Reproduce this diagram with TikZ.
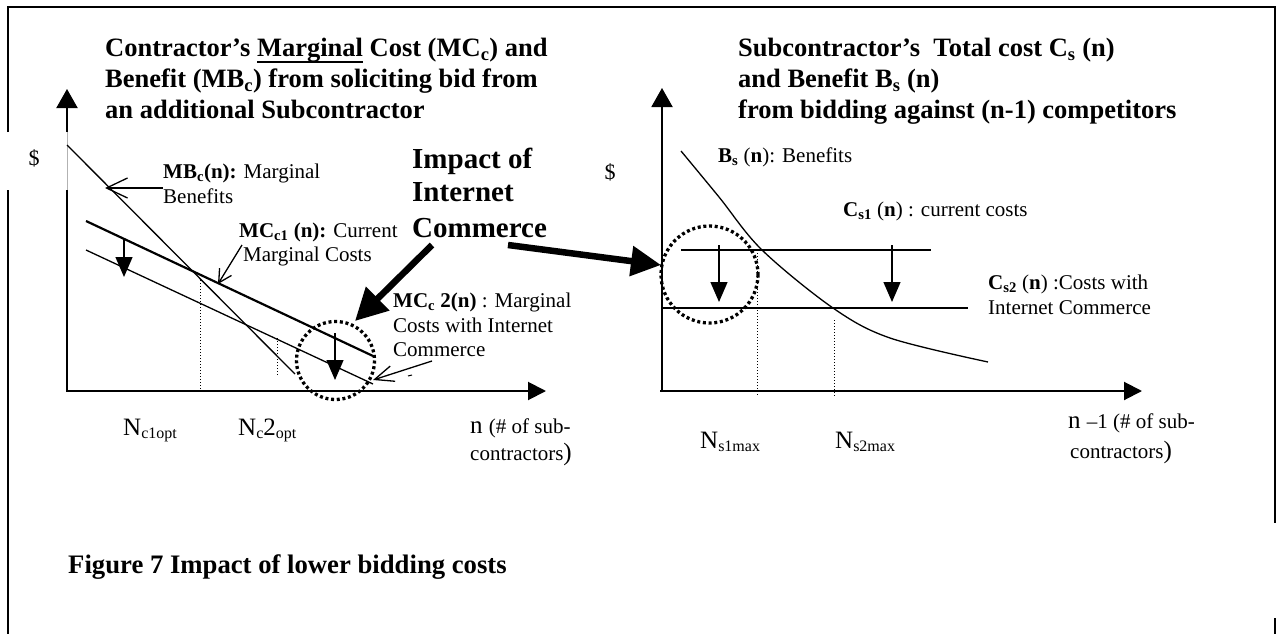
\documentclass[tikz,border=0pt]{standalone}
\usepackage{fontspec}
\setmainfont{Liberation Serif}
\usetikzlibrary{arrows.meta}
\newcommand\bigsub[1]{\raisebox{-3pt}{\fontsize{16}{16}\selectfont #1}}
\newcommand\ulx[1]{\sbox0{#1}\rlap{\rule[-6pt]{\wd0}{2pt}}\usebox0}
\begin{document}
\begin{tikzpicture}[x=1pt,y=-1pt,
  frame/.style={line width=2.5pt,line cap=butt,line join=miter},
  axisline/.style={line width=2pt,-{Triangle[length=19pt,width=21pt]}},
  curve/.style={line width=1.3pt},
  thick curve/.style={line width=2.2pt},
  dropline/.style={line width=1.3pt,-{Triangle[length=20pt,width=17pt]}},
  dotv/.style={line width=1pt,dash pattern=on 1pt off 2pt},
  ring/.style={line width=3.3pt,dash pattern=on 3pt off 2.7pt},
  bigarrow/.style={line width=6.5pt,-{Triangle[length=32pt,width=32pt]}},
  barb/.style={line width=1.3pt},
  ttl/.style={anchor=base west,inner sep=0pt,font=\fontsize{26.5}{31}\selectfont\bfseries},
  imp/.style={anchor=base west,inner sep=0pt,font=\fontsize{29}{33}\selectfont\bfseries},
  lbl/.style={anchor=base west,inner sep=0pt,font=\fontsize{21}{24}\selectfont},
  nlbl/.style={anchor=base west,inner sep=0pt,font=\fontsize{25}{28}\selectfont},
  dol/.style={anchor=center,inner sep=0pt,font=\fontsize{22}{24}\selectfont},
  figcaption/.style={anchor=base west,inner sep=0pt,font=\fontsize{26.7}{30}\selectfont\bfseries}]
\useasboundingbox (0,0) rectangle (1280,634);
% frame
\draw[frame] (8,132) -- (8,7) -- (1275,7) -- (1275,523);
\draw[frame] (8,190) -- (8,634);
\draw[frame] (1275,618) -- (1275,634);

% ---------- left chart ----------
\coordinate (LO) at (67,391);
\coordinate (LYg1) at (67,190);
\coordinate (LYg2) at (67,132);
\coordinate (LYt) at (67,89);
\coordinate (LXs) at (66,391);
\coordinate (LXt) at (546,391);
\draw[line width=2pt] (LO) -- (LYg1);
\draw[line width=1pt,gray!60] (LYg1) -- (LYg2);
\draw[axisline] (LYg2) -- (LYt);
\draw[line width=2pt,-{Triangle[length=18pt,width=18pt]}] (LXs) -- (LXt);

\coordinate (mbA) at (67,145);
\coordinate (mbB) at (295,374);
\coordinate (mc1A) at (86,221);
\coordinate (mc1B) at (373,356);
\coordinate (mc2A) at (86,250);
\coordinate (mc2B) at (373,384);
\draw[curve] (mbA) -- (mbB);
\draw[thick curve] (mc1A) -- (mc1B);
\draw[curve] (mc2A) -- (mc2B);

\coordinate (dl1a) at (124,238);
\coordinate (dl1b) at (124,277);
\coordinate (dl2a) at (335,333);
\coordinate (dl2b) at (335,380);
\draw[dropline] (dl1a) -- (dl1b);
\draw[dropline] (dl2a) -- (dl2b);

\coordinate (v1a) at (200,280);
\coordinate (v1b) at (200,391);
\coordinate (v2a) at (277,338);
\coordinate (v2b) at (277,377);
\draw[dotv] (v1a) -- (v1b);
\draw[dotv] (v2a) -- (v2b);

\coordinate (ringL) at (335.5,360.5);
\draw[ring] (ringL) circle[radius=39];

% annotation arrows (left)
\coordinate (mbS) at (163,188);
\coordinate (mbT) at (105,188);
\draw[barb,-{Straight Barb[length=21pt,width=20pt]}] (mbS) -- (mbT);
\coordinate (mc1S) at (242,245);
\coordinate (mc1T) at (218,284);
\draw[barb,-{Straight Barb[length=13pt,width=14pt]}] (mc1S) -- (mc1T);
\coordinate (mc2S) at (432,361);
\coordinate (mc2T) at (373,380);
\draw[barb,-{Straight Barb[length=19pt,width=16pt]}] (mc2S) -- (mc2T);
\coordinate (tk1) at (408,376);
\coordinate (tk2) at (412,375);
\draw[line width=1pt] (tk1) -- (tk2);

% ---------- right chart ----------
\coordinate (RO) at (662,392);
\coordinate (RYt) at (662,88);
\coordinate (RXs) at (660,391);
\coordinate (RXt) at (1142,391);
\draw[axisline] (RO) -- (RYt);
\draw[line width=2pt,-{Triangle[length=18pt,width=18pt]}] (RXs) -- (RXt);

\draw[curve] plot[smooth,tension=0.55] coordinates {(681,151) (719,197) (762,250) (833,308) (890,338) (988,362)};

\coordinate (cs1A) at (681,250);
\coordinate (cs1B) at (931,250);
\coordinate (cs2A) at (662,308);
\coordinate (cs2B) at (968,308);
\draw[curve] (cs1A) -- (cs1B);
\draw[curve] (cs2A) -- (cs2B);

\coordinate (rd1a) at (719,245);
\coordinate (rd1b) at (719,302);
\coordinate (rd2a) at (892,245);
\coordinate (rd2b) at (892,302);
\draw[dropline] (rd1a) -- (rd1b);
\draw[dropline] (rd2a) -- (rd2b);

\coordinate (rv1a) at (757,250);
\coordinate (rv1b) at (757,396);
\coordinate (rv2a) at (834,320);
\coordinate (rv2b) at (834,396);
\draw[dotv] (rv1a) -- (rv1b);
\draw[dotv] (rv2a) -- (rv2b);

\coordinate (ringR) at (709.5,274.5);
\draw[ring] (ringR) circle[radius=48.5];

% ---------- big arrows ----------
\coordinate (ba1s) at (432,245);
\coordinate (ba1t) at (355,321);
\coordinate (ba2s) at (508,245);
\coordinate (ba2t) at (661,265);
\draw[bigarrow] (ba1s) -- (ba1t);
\draw[bigarrow,-{Triangle[length=30pt,width=29pt]}] (ba2s) -- (ba2t);

% ---------- texts ----------
\node[ttl] (lt1) at (105,57) {Contractor’s \ulx{Marginal} Cost (MC\textsubscript{c}) and};
\node[ttl] (lt2) at (105,88) {Benefit (MB\textsubscript{c}) from soliciting bid from};
\node[ttl] (lt3) at (105,118) {an additional Subcontractor};

\node[ttl] (rt1) at (738,57) {Subcontractor’s\ \ Total cost C\textsubscript{s} (n)};
\node[ttl] (rt2) at (738,88) {and Benefit B\textsubscript{s} (n)};
\node[ttl] (rt3) at (738,118) {from bidding against (n-1) competitors};

\node[imp] (imp1) at (412,168) {Impact of};
\node[imp] (imp2) at (412,201) {Internet};
\node[imp] (imp3) at (412,237) {Commerce};

\node[dol] (dl) at (34,158) {\$};
\node[dol] (dr) at (610,172) {\$};

\node[lbl] (mbl1) at (163,178) {\textbf{MB\textsubscript{c}(n):} Marginal};
\node[lbl] (mbl2) at (163,203) {Benefits};
\node[lbl] (mc1l1) at (239,237) {\textbf{MC\textsubscript{c1} (n):} Current};
\node[lbl] (mc1l2) at (243,261) {Marginal Costs};
\node[lbl] (mc2l1) at (393,307) {\textbf{MC\textsubscript{c} 2(n)} : Marginal};
\node[lbl] (mc2l2) at (393,332) {Costs with Internet};
\node[lbl] (mc2l3) at (393,356) {Commerce};

\node[lbl] (bsl) at (718,162) {\textbf{B\textsubscript{s}} (\textbf{n}): Benefits};
\node[lbl] (cs1l) at (843,216) {\textbf{C\textsubscript{s1}} (\textbf{n}) : current costs};
\node[lbl] (cs2l1) at (988,289) {\textbf{C\textsubscript{s2}} (\textbf{n}) :Costs with};
\node[lbl] (cs2l2) at (988,314) {Internet Commerce};

\node[nlbl] (nc1) at (123,435) {N\bigsub{c1opt}};
\node[nlbl] (nc2) at (238,435) {N\bigsub{c}2\bigsub{opt}};
\node[nlbl] (nx1) at (470,433) {n {\fontsize{21}{24}\selectfont (\# of sub-}};
\node[lbl] (nx2) at (470,460) {contractors{\fontsize{25}{28}\selectfont)}};

\node[nlbl] (ns1) at (700,448) {N\bigsub{s1max}};
\node[nlbl] (ns2) at (835,448) {N\bigsub{s2max}};
\node[nlbl] (nr1) at (1068,428) {n {\fontsize{21}{24}\selectfont –1 (\# of sub-}};
\node[lbl] (nr2) at (1070,458) {contractors{\fontsize{25}{28}\selectfont)}};

\node[figcaption] (fig) at (68,573) {Figure 7 Impact of lower bidding costs};
\end{tikzpicture}
\end{document}
